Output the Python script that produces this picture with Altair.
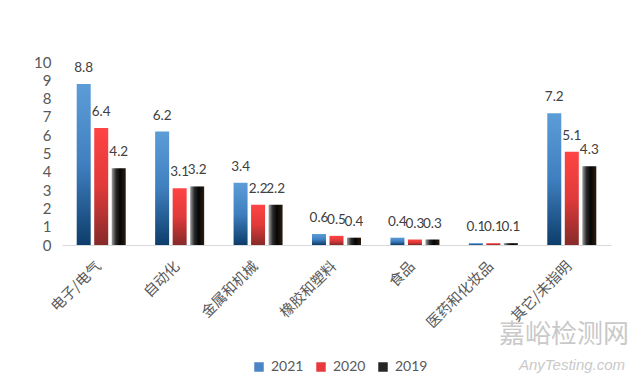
import altair as alt
import pandas as pd

categories = ["电子/电气", "自动化", "金属和机械", "橡胶和塑料", "食品", "医药和化妆品", "其它/未指明"]
years = ["2021", "2020", "2019"]
values_2021 = [8.8, 6.2, 3.4, 0.6, 0.4, 0.1, 7.2]
values_2020 = [6.4, 3.1, 2.2, 0.5, 0.3, 0.1, 5.1]
values_2019 = [4.2, 3.2, 2.2, 0.4, 0.3, 0.1, 4.3]
legend_colors = ["#4a86c5", "#e8393c", "#262626"]
y_ticks = list(range(0, 11))

rows = []
for yr, vals in zip(years, [values_2021, values_2020, values_2019]):
    for c, v in zip(categories, vals):
        rows.append({"category": c, "year": yr, "value": v, "label": f"{v:.1f}"})
df = pd.DataFrame(rows)

TEXT = "#404040"
AXIS_TEXT = "#595959"
CJK = "Noto Sans CJK SC"
NUM = "Lato"

x_enc = alt.X("category:N", sort=categories,
              scale=alt.Scale(paddingInner=0.375, paddingOuter=0.1875),
              axis=alt.Axis(title=None, labelAngle=-45, labelFont=CJK, labelFontSize=14.5,
                            labelColor=AXIS_TEXT, ticks=False, domainColor="#d9d9d9",
                            labelPadding=14, labelOffset=-7, domainWidth=1))
xoff_enc = alt.XOffset("year:N", sort=years, scale=alt.Scale(domain=years, paddingInner=0.2, paddingOuter=0))
y_enc = alt.Y("value:Q", scale=alt.Scale(domain=[0, 10], nice=False),
              axis=alt.Axis(title=None, values=y_ticks, grid=False, domain=False, ticks=False,
                            labelFont=NUM, labelFontSize=15, labelColor=AXIS_TEXT, labelPadding=11))

grad_blue = alt.LinearGradient(gradient="linear", x1=0, y1=0, x2=0, y2=1,
                               stops=[alt.GradientStop(color="#5c9dd8", offset=0),
                                      alt.GradientStop(color="#3f7fbf", offset=0.5),
                                      alt.GradientStop(color="#0d3d6b", offset=1)])
grad_red = alt.LinearGradient(gradient="linear", x1=0, y1=0, x2=0, y2=1,
                              stops=[alt.GradientStop(color="#ff4444", offset=0),
                                     alt.GradientStop(color="#e03a3a", offset=0.5),
                                     alt.GradientStop(color="#862a2a", offset=1)])
grad_black = alt.LinearGradient(gradient="linear", x1=0, y1=0, x2=1, y2=0,
                                stops=[alt.GradientStop(color="#a0a0a0", offset=0),
                                       alt.GradientStop(color="#2a2a2a", offset=0.3),
                                       alt.GradientStop(color="#050505", offset=0.6),
                                       alt.GradientStop(color="#2b1c10", offset=1)])

base = alt.Chart(df)
layers = []
for yr, g in zip(years, [grad_blue, grad_red, grad_black]):
    layers.append(base.transform_filter(alt.datum.year == yr).mark_bar(fill=g).encode(
        x=x_enc, xOffset=xoff_enc, y=y_enc))

legend_layer = base.mark_bar(opacity=0).encode(
    x=x_enc, xOffset=xoff_enc, y=y_enc,
    color=alt.Color("year:N", sort=years,
                    scale=alt.Scale(domain=years, range=legend_colors),
                    legend=alt.Legend(title=None, orient="none", legendX=190, legendY=298,
                                      direction="horizontal", symbolType="square",
                                      symbolSize=90, symbolOpacity=1, symbolStrokeWidth=0,
                                      labelFont=NUM, labelFontSize=14, labelColor=AXIS_TEXT,
                                      columnPadding=10, labelOffset=5)))

labels = base.mark_text(baseline="bottom", dy=-9, font=NUM, fontSize=13.5, color=TEXT).encode(
    x=x_enc, xOffset=xoff_enc, y=y_enc, text="label:N")

wm1 = alt.Chart(pd.DataFrame({"t": ["嘉峪检测网"]})).mark_text(
    font=CJK, fontSize=26, color="#c9c9c9", align="center", baseline="middle").encode(
    text="t:N", x=alt.value(502), y=alt.value(273))
wm2 = alt.Chart(pd.DataFrame({"t": ["AnyTesting.com"]})).mark_text(
    font="Liberation Sans", fontSize=15, fontStyle="italic", color="#c9c9c9",
    align="center", baseline="middle").encode(
    text="t:N", x=alt.value(510), y=alt.value(303))

chart = alt.layer(*layers, legend_layer, labels, wm1, wm2).properties(
    width=549, height=183,
    autosize=alt.AutoSizeParams(type="none"),
    padding={"left": 54, "top": 54, "right": 22, "bottom": 128},
).configure_view(stroke=None)

chart.save("out.html", embed_options={"renderer": "svg", "actions": False})
